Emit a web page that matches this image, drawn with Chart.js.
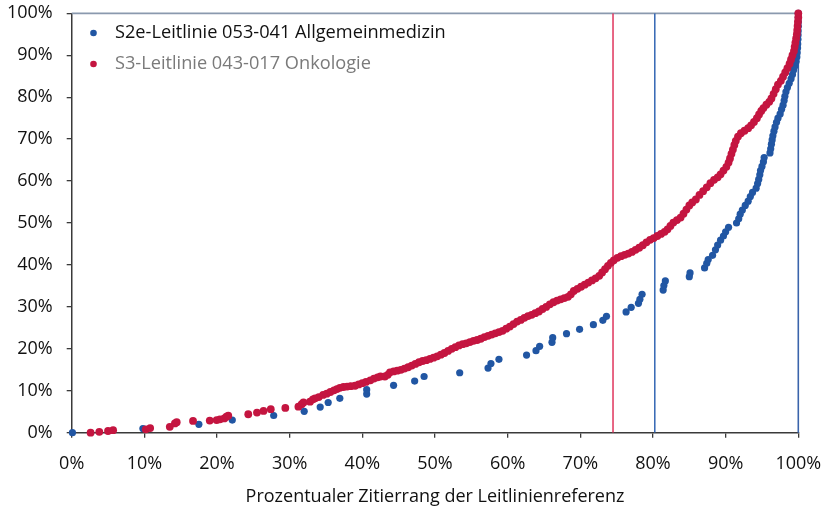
<!DOCTYPE html>
<html>
<head>
<meta charset="utf-8">
<script src="https://cdn.jsdelivr.net/npm/chart.js@4/dist/chart.umd.min.js"></script>
<style>
  html, body { margin: 0; padding: 0; background: #ffffff; }
  #wrap { width: 827px; height: 510px; position: relative; }
</style>
</head>
<body>
<div id="wrap"><canvas id="c" width="827" height="510"></canvas></div>
<script>
// ---- data (percent) ----
const seriesNames = ["S2e-Leitlinie 053-041 Allgemeinmedizin", "S3-Leitlinie 043-017 Onkologie"];
const axisTitleX = "Prozentualer Zitierrang der Leitlinienreferenz";
const tickValues = [0, 10, 20, 30, 40, 50, 60, 70, 80, 90, 100];

// S2e Allgemeinmedizin (blue)
const s2eX = [0.1, 9.8, 17.5, 22.1, 27.8, 32.0, 34.2, 35.3, 36.9, 40.6, 40.6, 44.3, 47.2, 48.5, 53.4, 57.3, 57.7, 58.8, 62.6, 63.9,
  64.4, 66.1, 66.2, 68.1, 69.9, 71.8, 73.1, 73.6, 76.3, 77.0, 78.0, 78.2, 78.5, 81.4, 81.5, 81.7, 85.0, 85.1, 87.1, 87.4,
  87.6, 88.2, 88.6, 88.9, 89.3, 89.7, 90.0, 90.4, 91.5, 91.8, 92.0, 92.3, 92.7, 93.1, 93.4, 93.7, 94.2, 94.4, 94.55, 94.7,
  94.8, 95.0, 95.2, 95.3, 96.1, 96.2, 96.3, 96.4, 96.5, 96.65, 96.8, 97.0, 97.2, 97.5, 97.7, 97.9, 98.05, 98.15, 98.3, 98.5,
  98.75, 99.0, 99.2, 99.35, 99.55, 99.7, 99.8, 99.85, 99.9, 99.92, 99.95, 99.97, 99.98, 100, 100, 100, 100];
const s2eY = [0.0, 1.0, 2.0, 3.0, 4.1, 5.1, 6.1, 7.2, 8.2, 9.2, 10.25, 11.3, 12.3, 13.4, 14.3, 15.4, 16.5, 17.5, 18.5, 19.55,
  20.6, 21.55, 22.65, 23.6, 24.65, 25.75, 26.8, 27.75, 28.8, 29.9, 30.85, 31.8, 33.0, 34.0, 35.1, 36.2, 37.2, 38.1, 39.3, 40.4,
  41.3, 42.3, 43.6, 44.75, 45.9, 46.9, 47.9, 48.96, 50.0, 51.0, 52.1, 53.1, 54.2, 55.2, 56.3, 57.3, 58.3, 59.4, 60.4, 61.5,
  62.5, 63.5, 64.6, 65.6, 66.7, 67.7, 68.8, 69.8, 70.8, 71.9, 72.9, 74.0, 75.0, 76.0, 77.1, 78.1, 79.2, 80.2, 81.3, 82.3,
  83.3, 84.4, 85.4, 86.5, 87.5, 88.5, 89.6, 90.6, 91.7, 92.7, 93.8, 94.8, 95.8, 96.9, 97.9, 99.0, 100.0];

// S3 Onkologie (red)
const s3X = [2.6, 3.8, 5.0, 5.7, 10.2, 10.8, 13.5, 14.2, 14.45, 16.7, 19.0, 19.95, 20.4, 21.0, 21.3, 21.55, 24.3, 25.5, 26.4, 27.4,
  29.4, 31.2, 31.65, 31.9, 32.8, 33.2,
  33.5, 34.0, 34.6, 35.1, 35.6, 36.1, 36.5, 36.9, 37.4, 37.9, 38.4, 39.0, 39.5, 40.0, 40.5, 41.1, 41.6, 42.1, 42.5, 43.1,
  43.5, 43.8, 44.3, 44.8, 45.3, 45.8, 46.3, 46.8, 47.3, 47.8, 48.3, 48.8, 49.3, 49.8, 50.3, 50.8, 51.3, 51.8, 52.3, 52.8,
  53.3, 53.8, 54.3, 54.8, 55.3, 55.8, 56.3, 56.8, 57.3, 57.8, 58.3, 58.8, 59.3, 59.8, 60.3, 60.8, 61.3, 61.8, 62.3, 62.8,
  63.3, 63.8, 64.3, 64.8, 65.3, 65.8, 66.3, 66.8, 67.3, 67.8, 68.3, 68.7, 69.1, 69.6, 70.1, 70.6, 71.1, 71.6, 72.1, 72.6,
  73.0, 73.4, 73.8, 74.2, 74.6, 75.1, 75.6, 76.1, 76.6, 77.1, 77.6, 78.1, 78.6, 79.1, 79.6, 80.1, 80.6, 81.1, 81.6, 82.0,
  82.4, 82.8, 83.3, 83.8, 84.2, 84.6, 85.0, 85.4, 85.9, 86.4, 86.9, 87.4, 87.9, 88.4, 88.9, 89.3, 89.7, 90.1, 90.4, 90.6,
  90.8, 91.0, 91.2, 91.4, 91.7, 92.1, 92.6, 93.1, 93.5, 93.9, 94.3, 94.6, 94.9, 95.2, 95.6, 96.0, 96.3, 96.6, 96.9, 97.2,
  97.6, 97.9, 98.2, 98.5, 98.8, 99.0, 99.2, 99.4, 99.5, 99.6, 99.7, 99.8, 99.85, 99.9, 99.95, 100, 100];
const s3Y = [0.0, 0.2, 0.4, 0.6, 0.8, 1.1, 1.4, 2.2, 2.5, 2.8, 2.9, 3.0, 3.2, 3.4, 3.8, 4.05, 4.4, 4.8, 5.2, 5.6,
  5.9, 6.2, 6.8, 7.2, 7.4, 7.95,
  8.2, 8.5, 9.0, 9.3, 9.7, 10.1, 10.4, 10.7, 10.9, 11.0, 11.1, 11.2, 11.5, 11.8, 12.1, 12.5, 12.9, 13.2, 13.4, 13.4,
  13.8, 14.4, 14.6, 14.8, 15.0, 15.3, 15.6, 16.0, 16.4, 16.8, 17.1, 17.3, 17.6, 17.9, 18.2, 18.6, 19.0, 19.5, 20.0, 20.4,
  20.8, 21.1, 21.3, 21.6, 21.9, 22.1, 22.4, 22.8, 23.1, 23.4, 23.7, 24.0, 24.3, 24.8, 25.3, 25.9, 26.5, 26.9, 27.4, 27.8,
  28.1, 28.5, 28.9, 29.5, 30.0, 30.6, 31.1, 31.5, 31.8, 32.1, 32.4, 33.0, 33.8, 34.3, 34.8, 35.3, 35.8, 36.3, 36.8, 37.4,
  38.2, 39.0, 39.8, 40.5, 41.1, 41.7, 42.1, 42.4, 42.7, 43.1, 43.6, 44.1, 44.7, 45.4, 46.0, 46.4, 46.9, 47.4, 47.9, 48.5,
  49.3, 50.1, 50.7, 51.3, 52.2, 53.2, 54.2, 54.9, 55.6, 56.7, 57.6, 58.5, 59.5, 60.3, 60.9, 61.6, 62.5, 63.4, 64.4, 65.4,
  66.5, 67.5, 68.6, 69.6, 70.6, 71.4, 72.0, 72.6, 73.3, 74.1, 75.0, 75.9, 76.7, 77.4, 78.2, 78.9, 79.7, 80.8, 81.9, 83.0,
  83.9, 84.9, 85.9, 86.9, 88.0, 89.0, 90.0, 91.0, 92.0, 93.0, 94.0, 95.0, 96.0, 97.0, 98.0, 99.0, 100.0];

// reference lines
const s3Marker = 74.5;   // red vertical line
const s2eMarker = 80.25; // blue vertical line
const fullMark = 100;

const BLUE = '#2156a3';
const RED = '#c41540';
const FONT = '"Open Sans", "DejaVu Sans", sans-serif';

function pts(xs, ys) { return xs.map((x, i) => ({ x: x, y: ys[i] })); }

const legendPlugin = {
  id: 'insideLegend',
  afterDatasetsDraw(chart) {
    const ctx = chart.ctx;
    const items = [
      { text: seriesNames[0], dot: BLUE, color: '#111111', y: 33 },
      { text: seriesNames[1], dot: RED, color: '#7a7a7a', y: 64 }
    ];
    ctx.save();
    ctx.font = '18.2px ' + FONT;
    ctx.textBaseline = 'middle';
    ctx.textAlign = 'left';
    items.forEach(it => {
      ctx.beginPath();
      ctx.fillStyle = it.dot;
      ctx.arc(93.5, it.y, 3.3, 0, Math.PI * 2);
      ctx.fill();
      ctx.fillStyle = it.color;
      ctx.fillText(it.text, 115, it.y);
    });
    ctx.restore();
  }
};

const chart = new Chart(document.getElementById('c'), {
  type: 'scatter',
  data: {
    datasets: [
      { label: seriesNames[1], data: pts(s3X, s3Y), backgroundColor: RED, borderWidth: 0,
        pointRadius: 3.9, pointHoverRadius: 3.9, order: 0, clip: false },
      { label: seriesNames[0], data: pts(s2eX, s2eY), backgroundColor: BLUE, borderWidth: 0,
        pointRadius: 3.6, pointHoverRadius: 3.6, order: 1, clip: false },
      { type: 'line', label: 'top', data: [{ x: 0, y: 100 }, { x: 100, y: 100 }], borderColor: '#8a99ae',
        borderWidth: 1.8, pointRadius: 0, order: 3, clip: false },
      { type: 'line', label: 'S3 ref', data: [{ x: s3Marker, y: 0 }, { x: s3Marker, y: 100 }], borderColor: '#e0345c',
        borderWidth: 1.5, pointRadius: 0, order: 2 },
      { type: 'line', label: 'S2e ref', data: [{ x: s2eMarker, y: 0 }, { x: s2eMarker, y: 100 }], borderColor: '#3366b3',
        borderWidth: 1.5, pointRadius: 0, order: 2 },
      { type: 'line', label: 'full', data: [{ x: fullMark, y: 0 }, { x: fullMark, y: 100 }], borderColor: '#3a64ab',
        borderWidth: 1.6, pointRadius: 0, order: 2, clip: false }
    ]
  },
  options: {
    responsive: false,
    animation: false,
    events: [],
    layout: { padding: { top: 13.3, right: 28.7, left: 0, bottom: 0 } },
    plugins: { legend: { display: false }, tooltip: { enabled: false } },
    scales: {
      x: {
        type: 'linear', min: 0, max: 100,
        afterBuildTicks: (s) => { s.ticks = tickValues.map(v => ({ value: v })); },
        ticks: { callback: v => v + '%', color: '#111111', font: { family: FONT, size: 18 }, padding: 15, maxRotation: 0 },
        grid: { drawOnChartArea: false, drawTicks: true, tickLength: 5, color: '#3a3a3a', lineWidth: 1.3 },
        border: { display: true, color: '#3a3a3a', width: 1.5 },
        title: { display: true, text: axisTitleX, color: '#111111', font: { family: FONT, size: 18 }, padding: { top: 4, bottom: 2 } },
        afterFit: (s) => { s.height = 77.3; s.paddingLeft = 0; s.paddingRight = 0; }
      },
      y: {
        type: 'linear', min: 0, max: 100,
        afterBuildTicks: (s) => { s.ticks = tickValues.map(v => ({ value: v })); },
        ticks: { callback: v => v + '%', color: '#111111', font: { family: FONT, size: 18 }, padding: 14 },
        grid: { drawOnChartArea: false, drawTicks: true, tickLength: 5, color: '#3a3a3a', lineWidth: 1.3 },
        border: { display: true, color: '#3a3a3a', width: 1.5 },
        afterFit: (s) => { s.width = 71.7; s.paddingTop = 0; s.paddingBottom = 0; }
      }
    }
  },
  plugins: [legendPlugin]
});
</script>
</body>
</html>
